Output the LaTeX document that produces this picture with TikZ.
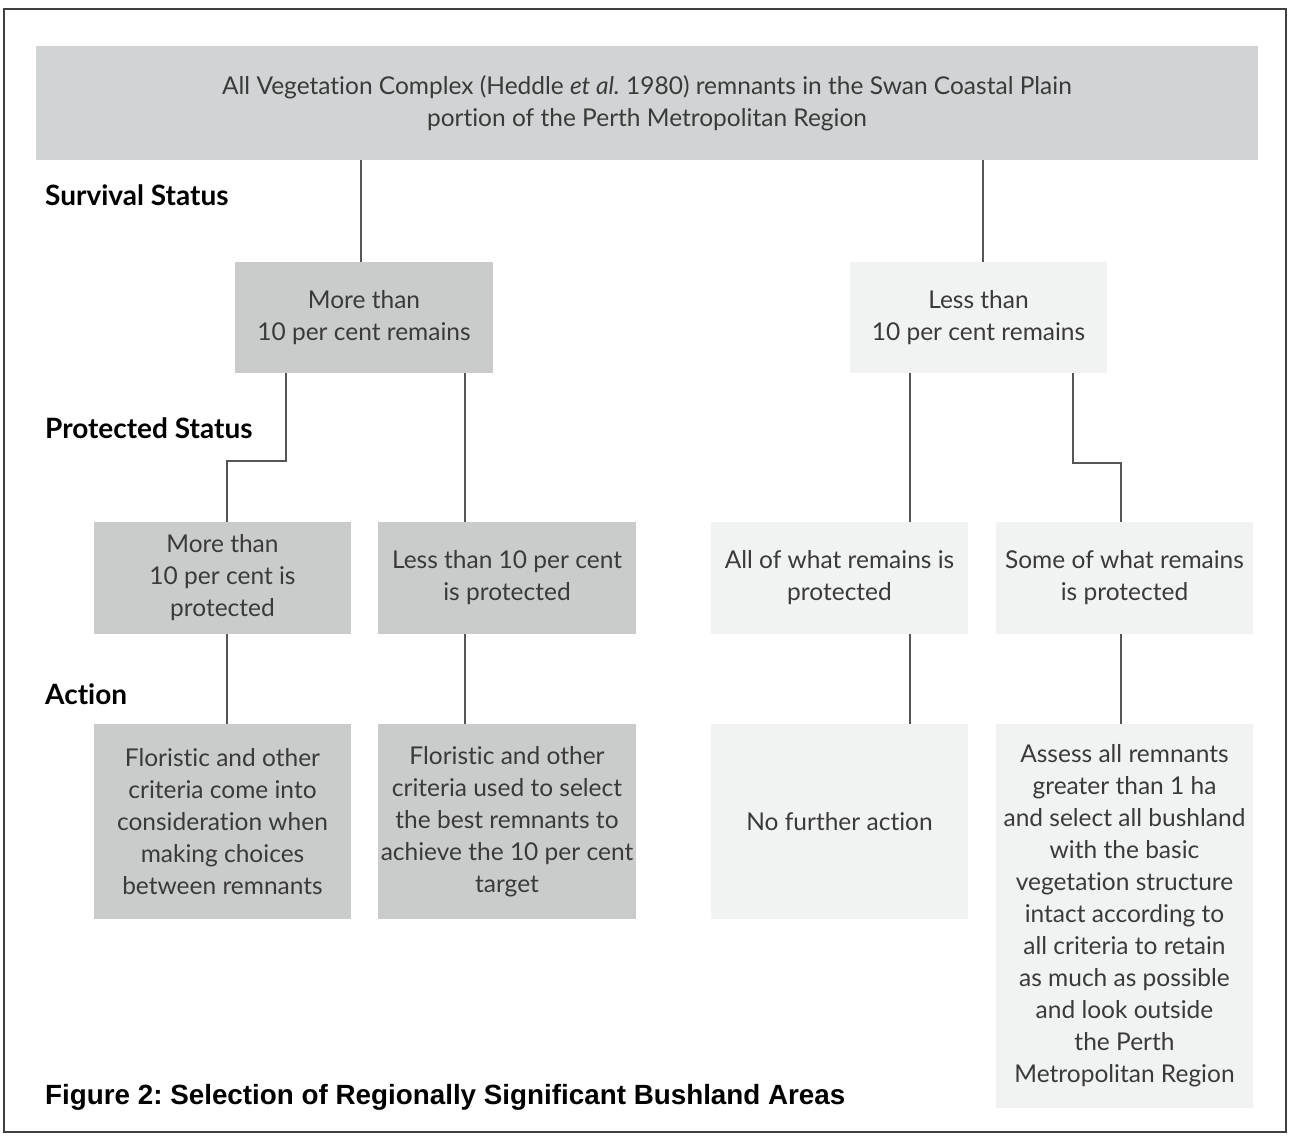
\documentclass[tikz,border=0pt]{standalone}
\usepackage{fontspec}
\setmainfont{Lato}[RawFeature={-liga}]
\newfontfamily\captionfont{Liberation Sans}
\usetikzlibrary{calc}
\frenchspacing

\definecolor{boxtop}{HTML}{D0D4D4}
\definecolor{boxdark}{HTML}{CACCCC}
\definecolor{boxpale}{HTML}{F1F2F2}
\definecolor{inkgrey}{HTML}{3A3A3A}
\definecolor{linegrey}{HTML}{555555}

\begin{document}
\begin{tikzpicture}[x=1pt,y=-1pt,
    box/.style={rectangle,inner sep=0pt,minimum width=257pt,align=center,
      text=inkgrey,font=\fontsize{24.5}{32}\selectfont},
    darkbox/.style={box,fill=boxdark},
    palebox/.style={box,fill=boxpale},
    heading/.style={anchor=west,inner sep=0pt,text=black,
      font=\fontsize{28}{30}\selectfont\bfseries},
    link/.style={draw=linegrey,line width=1.6pt}]
  \useasboundingbox (0,0) rectangle (1289,1136);
  \draw[line width=2.2pt,black!75] (4,9) rectangle (1286,1132);

  % top box
  \node[box,fill=boxtop,minimum width=1222pt,minimum height=114pt] (top) at (647,103)
    {All Vegetation Complex (Heddle \textit{et al.} 1980) remnants in the Swan Coastal Plain\\
     portion of the Perth Metropolitan Region};

  % survival status
  \node[darkbox,minimum width=258pt,minimum height=111pt] (more) at (364,317.5)
    {More than\\10 per cent remains};
  \node[palebox,minimum height=111pt] (less) at (978.5,317.5)
    {Less than\\10 per cent remains};

  % protected status
  \node[darkbox,minimum height=112pt] (moreprot) at (222.5,578)
    {More than\\10 per cent is\\protected};
  \node[darkbox,minimum width=258pt,minimum height=112pt] (lessprot) at (507,578)
    {Less than 10 per cent\\is protected};
  \node[palebox,minimum height=112pt] (allprot) at (839.5,578)
    {All of what remains is\\protected};
  \node[palebox,minimum height=112pt] (someprot) at (1124.5,578)
    {Some of what remains\\is protected};

  % action
  \node[darkbox,minimum height=195pt] (consider) at (222.5,821.5)
    {Floristic and other\\criteria come into\\consideration when\\making choices\\between remnants};
  \node[darkbox,minimum width=258pt,minimum height=195pt] (target) at (507,821.5)
    {Floristic and other\\criteria used to select\\the best remnants to\\achieve the 10 per cent\\target};
  \node[palebox,minimum height=195pt] (noaction) at (839.5,821.5)
    {No further action};
  \node[palebox,minimum height=384pt] (assess) at (1124.5,916)
    {Assess all remnants\\greater than 1 ha\\and select all bushland\\with the basic\\vegetation structure\\intact according to\\all criteria to retain\\as much as possible\\and look outside\\the Perth\\Metropolitan Region};

  % row labels
  \node[heading] (survival) at (45,195) {Survival Status};
  \node[heading] (protected) at (45,428) {Protected Status};
  \node[heading] (action) at (45,694) {Action};
  \node[anchor=west,inner sep=0pt,font=\captionfont\fontsize{27.8}{30}\selectfont\bfseries]
    (caption) at (45,1097) {Figure 2: Selection of Regionally Significant Bushland Areas};

  % connectors
  \draw[link] (top.south -| 361,0) -- (more.north -| 361,0);
  \draw[link] (top.south -| 983,0) -- (less.north -| 983,0);
  \draw[link] ($(more.south)+(-78,0)$) -- ++(0,88) -| ($(moreprot.north)+(4.5,0)$);
  \draw[link] ($(more.south)+(101,0)$) coordinate (m2) -- (m2 |- lessprot.north);
  \draw[link] ($(less.south)+(-68.5,0)$) coordinate (l1) -- (l1 |- allprot.north);
  \draw[link] ($(less.south)+(94.5,0)$) -- ++(0,90) -| ($(someprot.north)+(-3.5,0)$);
  \draw[link] ($(moreprot.south)+(4.5,0)$) coordinate (p1) -- (p1 |- consider.north);
  \draw[link] (m2 |- lessprot.south) -- (m2 |- target.north);
  \draw[link] (l1 |- allprot.south) -- (l1 |- noaction.north);
  \draw[link] ($(someprot.south)+(-3.5,0)$) coordinate (p4) -- (p4 |- assess.north);
\end{tikzpicture}
\end{document}
